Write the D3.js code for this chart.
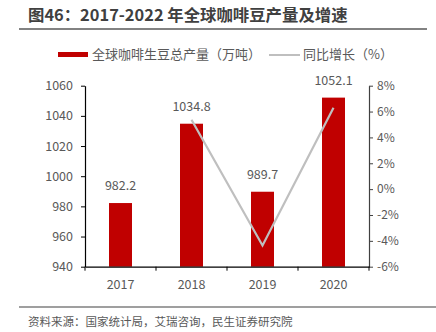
<!DOCTYPE html>
<html><head><meta charset="utf-8">
<script src="https://cdn.jsdelivr.net/npm/d3@7"></script>
<style>
body{margin:0;background:#fff;}
text{font-family:"Noto Sans CJK SC","Noto Sans",sans-serif;}
</style></head>
<body><svg id="c" width="436" height="332"></svg>
<script>
const years = ["2017","2018","2019","2020"];
const production = [982.2, 1034.8, 989.7, 1052.1];
const growth = [null, 5.36, -4.36, 6.30];
const leftTicks = [940,960,980,1000,1020,1040,1060];
const rightTicks = [-6,-4,-2,0,2,4,6,8];

const svg = d3.select("#c");
const m = {l:85, r:369, t:85.7, b:266.7};
const xc = d3.scaleBand().domain(years).range([m.l, m.r]);
const yL = d3.scaleLinear().domain([940,1060]).range([m.b, m.t]);
const yR = d3.scaleLinear().domain([-6,8]).range([m.b, m.t]);
const txt = "#595959";

// title
svg.append("text").attr("x",28).attr("y",21).attr("font-size",16.4).attr("font-weight","bold").attr("fill","#404040").text("图46：2017-2022 年全球咖啡豆产量及增速");
svg.append("line").attr("x1",19).attr("x2",427).attr("y1",29).attr("y2",29).attr("stroke","#595959").attr("stroke-width",1.5);

// legend
svg.append("rect").attr("x",58).attr("y",52).attr("width",30).attr("height",5).attr("fill","#C00000");
svg.append("text").attr("x",92).attr("y",59).attr("font-size",13).attr("fill",txt).text("全球咖啡生豆总产量（万吨）");
svg.append("line").attr("x1",269).attr("x2",300).attr("y1",55).attr("y2",55).attr("stroke","#BFBFBF").attr("stroke-width",2);
svg.append("text").attr("x",303).attr("y",59).attr("font-size",13).attr("fill",txt).text("同比增长（%）");

// bars
svg.selectAll("rect.bar").data(production).enter().append("rect").attr("class","bar")
  .attr("x",(d,i)=>xc(years[i])+xc.bandwidth()/2-11.5).attr("width",23)
  .attr("y",d=>yL(d)).attr("height",d=>m.b-yL(d)).attr("fill","#C00000");
svg.selectAll("text.bl").data(production).enter().append("text").attr("class","bl")
  .attr("x",(d,i)=>xc(years[i])+xc.bandwidth()/2).attr("y",d=>yL(d)-13)
  .attr("text-anchor","middle").attr("font-size",12.5).attr("fill",txt).text(d=>d.toFixed(1));

// line
const line = d3.line().defined(d=>d.g!==null).x(d=>xc(d.y)+xc.bandwidth()/2).y(d=>yR(d.g));
svg.append("path").datum(years.map((y,i)=>({y:y,g:growth[i]})))
  .attr("d",line).attr("fill","none").attr("stroke","#BFBFBF").attr("stroke-width",2.2);

// axes
const gl = svg.append("g").attr("transform",`translate(${m.l},0)`)
  .call(d3.axisLeft(yL).tickValues(leftTicks).tickSize(4).tickSizeOuter(0).tickFormat(d3.format("d")));
gl.select(".domain").attr("stroke","#000").attr("stroke-width",1.2);
gl.selectAll("line").attr("stroke","#000");
gl.selectAll("text").attr("font-size",12.5).attr("fill",txt).attr("x",-12);

const gr = svg.append("g").attr("transform",`translate(${m.r},0)`)
  .call(d3.axisRight(yR).tickValues(rightTicks).tickSize(4).tickSizeOuter(0).tickFormat(d=>d+"%"));
gr.select(".domain").attr("stroke","#404040").attr("stroke-width",1.2);
gr.selectAll("line").attr("stroke","#404040");
gr.selectAll("text").attr("font-size",12).attr("fill",txt).attr("x",8);

const gx = svg.append("g").attr("transform",`translate(0,${m.b})`)
  .call(d3.axisBottom(xc).tickSize(0).tickSizeOuter(0));
gx.select(".domain").attr("stroke","#000").attr("stroke-width",1.2);
gx.selectAll("text").attr("font-size",12.5).attr("fill",txt).attr("dy","0").attr("y",22);
gx.selectAll("line.tk").data(d3.range(5)).enter().append("line")
  .attr("x1",i=>m.l+i*xc.bandwidth()).attr("x2",i=>m.l+i*xc.bandwidth()).attr("y1",0).attr("y2",4).attr("stroke","#000");

// source
svg.append("line").attr("x1",19).attr("x2",436).attr("y1",307).attr("y2",307).attr("stroke","#7f7f7f").attr("stroke-width",1.5);
svg.append("text").attr("x",28).attr("y",326).attr("font-size",11.5).attr("fill",txt).text("资料来源：国家统计局，艾瑞咨询，民生证券研究院");
</script></body></html>
